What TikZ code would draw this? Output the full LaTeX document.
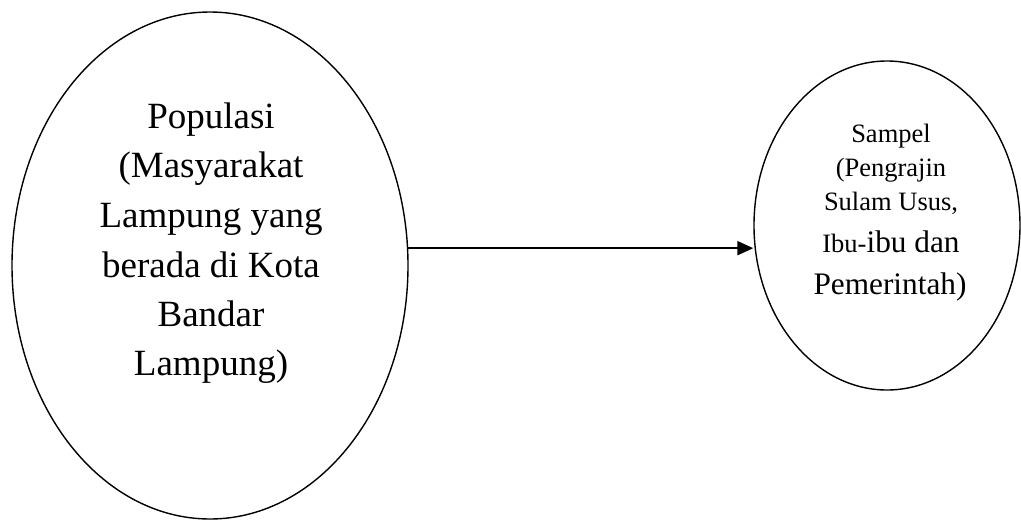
\documentclass[tikz,border=0pt]{standalone}
\usepackage{fontspec}
\setmainfont{Liberation Serif}
\usetikzlibrary{shapes.geometric,arrows.meta}

\begin{document}
\begin{tikzpicture}[x=1pt,y=-1pt,
  oval/.style={draw=black,line width=1.4pt,ellipse,inner sep=0pt},
  bigtext/.style={anchor=base,inner sep=0pt,font=\fontsize{37}{44}\selectfont},
  smalltext/.style={anchor=base,inner sep=0pt,font=\fontsize{26.5}{32}\selectfont},
  midtext/.style={anchor=base,inner sep=0pt,font=\fontsize{31.3}{38}\selectfont},
  flow/.style={line width=2pt,-{Triangle[length=16pt,width=14pt]}}]
  \useasboundingbox (0,0) rectangle (1021,520);

  % population and sample ovals
  \node[oval,minimum width=396pt,minimum height=507pt] (pop) at (210,265.5) {};
  \node[oval,minimum width=266pt,minimum height=329pt] (sam) at (887,225.5) {};

  % population label, one line per node
  \node[bigtext] (p1) at (211,128) {Populasi};
  \node[bigtext] (p2) at (211,177) {(Masyarakat};
  \node[bigtext] (p3) at (211,227) {Lampung yang};
  \node[bigtext] (p4) at (211,277) {berada di Kota};
  \node[bigtext] (p5) at (211,326) {Bandar};
  \node[bigtext] (p6) at (211,375) {Lampung)};

  % sample label
  \node[smalltext] (s1) at (891,142) {Sampel};
  \node[smalltext] (s2) at (891,176) {(Pengrajin};
  \node[smalltext] (s3) at (891,210) {Sulam Usus,};
  \node[midtext] (s4) at (891,252) {{\fontsize{26.5}{32}\selectfont Ibu-}ibu dan};
  \node[midtext] (s5) at (890,294) {Pemerintah)};

  % connector
  \draw[flow] (pop.5) -- (sam.west |- pop.5);
\end{tikzpicture}
\end{document}
